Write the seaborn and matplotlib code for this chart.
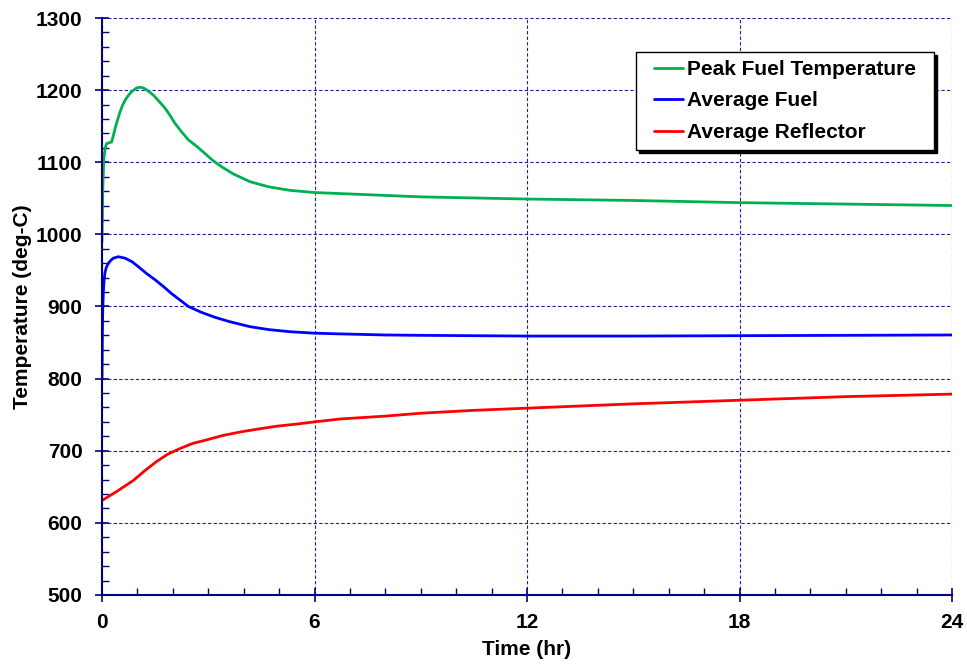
import matplotlib
matplotlib.use("Agg")
import matplotlib.pyplot as plt
from matplotlib.ticker import MultipleLocator
from matplotlib.path import Path
import seaborn as sns
import pandas as pd

# Peak fuel temperature
t_peak = [0, 0.02, 0.05, 0.09, 0.13, 0.2, 0.27, 0.32, 0.37, 0.44, 0.51, 0.58,
          0.65, 0.75, 0.84, 0.92, 0.98, 1.07, 1.17, 1.3, 1.45, 1.6, 1.78,
          1.92, 2.06, 2.25, 2.44, 2.7, 2.91, 3.14, 3.4, 3.7, 4.18, 4.7,
          5.31, 6.0, 7.5, 9.0, 12.0, 15.0, 18.0, 21.0, 24.0]
v_peak = [990, 1060, 1105, 1120, 1126, 1127, 1128, 1137, 1147, 1159, 1170, 1179,
          1186, 1193, 1198, 1201, 1203, 1204, 1203, 1199, 1193, 1185, 1175,
          1165, 1154, 1142, 1131, 1121, 1112, 1102, 1093, 1084, 1073, 1066,
          1061, 1058, 1055, 1052, 1049, 1047, 1044, 1042, 1040]

# Average fuel
t_avg = [0, 0.01, 0.02, 0.04, 0.06, 0.08, 0.12, 0.18, 0.25, 0.32, 0.46, 0.65,
         0.85, 1.03, 1.25, 1.5, 1.75, 1.96, 2.2, 2.44, 2.8, 3.19, 3.6, 4.18,
         4.7, 5.31, 6.0, 6.72, 8.0, 9.0, 12.0, 15.0, 18.0, 21.0, 24.0]
v_avg = [800, 860, 895, 923, 937, 946, 954, 960, 964, 967, 969, 967,
         962, 955, 946, 937, 927, 918, 909, 900, 892, 885, 879, 872,
         868, 865, 863, 862, 860.5, 860, 859, 859, 859.5, 860, 860.5]

# Average reflector
t_refl = [0, 0.4, 0.89, 1.2, 1.54, 1.85, 2.2, 2.55, 2.95, 3.4, 3.9, 4.4,
          4.93, 5.5, 6.0, 6.72, 8.0, 9.0, 10.5, 12.0, 15.0, 18.0, 21.0, 24.0]
v_refl = [631, 643, 659, 672, 685, 695, 703, 710, 715, 721, 726, 730,
          734, 737, 740, 744, 748, 752, 756, 759, 765, 770, 775, 778.5]

labels = ["Peak Fuel Temperature", "Average Fuel", "Average Reflector"]
colors = ["#00B050", "#0000FF", "#FF0000"]

df = pd.concat([
    pd.DataFrame({"Time": t_peak, "Temp": v_peak, "Series": labels[0]}),
    pd.DataFrame({"Time": t_avg, "Temp": v_avg, "Series": labels[1]}),
    pd.DataFrame({"Time": t_refl, "Temp": v_refl, "Series": labels[2]}),
])

sns.set_style("white")
plt.rcParams["font.family"] = ["Liberation Sans", "DejaVu Sans"]
plt.rcParams["font.weight"] = "bold"
plt.rcParams["text.color"] = "black"
plt.rcParams["axes.labelcolor"] = "black"
plt.rcParams["xtick.labelcolor"] = "black"
plt.rcParams["ytick.labelcolor"] = "black"

navy = "#000080"


def wide_box(x0, y0, width, height, mutation_size):
    # legend frame with extra room left and right only
    px = 0.48 * mutation_size
    x0, x1 = x0 - px, x0 + width + px
    y1 = y0 + height
    return Path([(x0, y0), (x1, y0), (x1, y1), (x0, y1), (x0, y0)], closed=True)


fig = plt.figure(figsize=(9.67, 6.67), dpi=100)
ax = fig.add_axes([0.1055, 0.108, 0.879, 0.865])

sns.lineplot(data=df, x="Time", y="Temp", hue="Series", hue_order=labels,
             palette=colors, linewidth=2, sort=False, ax=ax)

ax.set_xlim(0, 24)
ax.set_ylim(500, 1300)
ax.xaxis.set_major_locator(MultipleLocator(6))
ax.xaxis.set_minor_locator(MultipleLocator(1))
ax.yaxis.set_major_locator(MultipleLocator(100))
ax.yaxis.set_minor_locator(MultipleLocator(20))

ax.grid(True, which="major", color="#2020a0", linestyle=(0, (3, 2)), linewidth=0.8)
ax.set_axisbelow(True)

for s in ["top", "right"]:
    ax.spines[s].set_visible(False)
for s in ["left", "bottom"]:
    ax.spines[s].set_color(navy)
    ax.spines[s].set_linewidth(1.5)

ax.tick_params(which="both", bottom=True, left=True, top=False, right=False)
ax.tick_params(which="major", direction="inout", length=10, width=1.2,
               color=navy, labelcolor="black", labelsize=15)
ax.tick_params(which="minor", direction="in", length=5, width=1,
               color=navy)
ax.tick_params(axis="x", which="major", pad=8)
ax.tick_params(axis="y", which="major", pad=9)
for lab in ax.get_xticklabels() + ax.get_yticklabels():
    lab.set_fontweight("bold")

ax.set_xlabel("Time (hr)", fontsize=15, fontweight="bold", labelpad=6,
              color="black")
ax.set_ylabel("Temperature (deg-C)", fontsize=15, fontweight="bold",
              labelpad=3, color="black")

leg = ax.legend(loc="upper right", bbox_to_anchor=(0.967, 0.941),
                borderaxespad=0, fontsize=15, frameon=True, fancybox=False,
                shadow={"color": "black", "alpha": 1}, borderpad=0.38,
                handlelength=1.4, handletextpad=0.2, labelspacing=0.6)
leg.get_frame().set_boxstyle(wide_box)
leg.get_frame().set_edgecolor("black")
leg.get_frame().set_linewidth(1)
for txt in leg.get_texts():
    txt.set_fontweight("bold")
    txt.set_color("black")

fig.savefig("out.png", dpi=100)
